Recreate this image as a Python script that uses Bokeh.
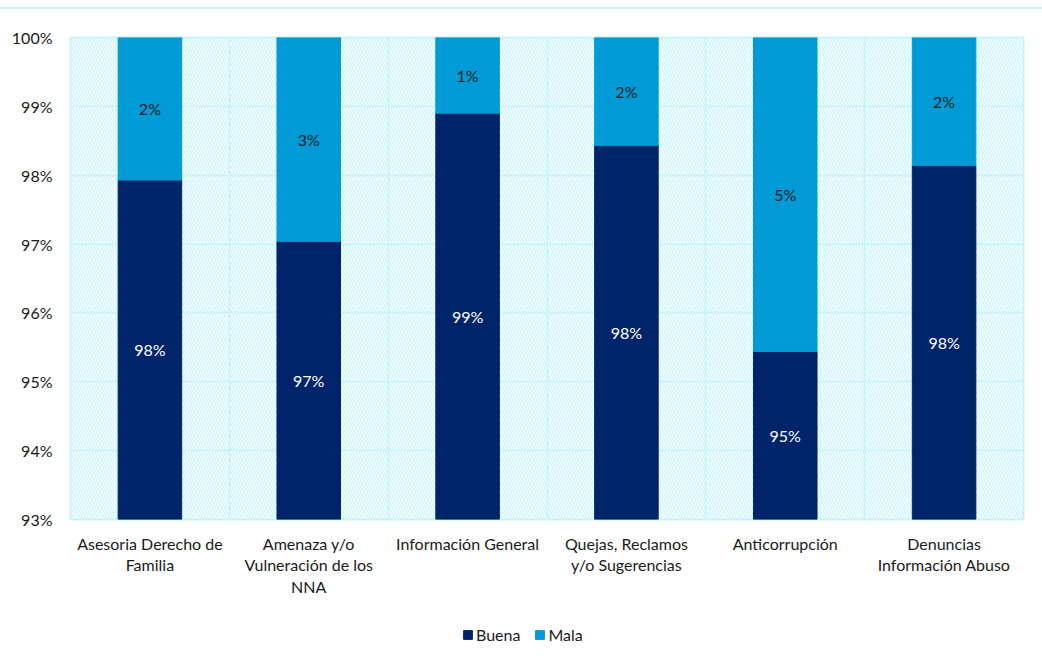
from bokeh.plotting import figure
from bokeh.layouts import column
from bokeh.models import (ColumnDataSource, Range1d, FixedTicker, PrintfTickFormatter,
                          BoxAnnotation, Legend, LegendItem, LabelSet)
from bokeh.core.properties import value
from bokeh.embed import file_html
from bokeh.resources import INLINE

categories = ["Asesoria Derecho de\nFamilia", "Amenaza y/o\nVulneración de los\nNNA",
              "Información General", "Quejas, Reclamos\ny/o Sugerencias",
              "Anticorrupción", "Denuncias\nInformación Abuso"]
buena = [97.93, 97.04, 98.90, 98.43, 95.44, 98.14]
mala = [100 - b for b in buena]
buena_labels = ["98%", "97%", "99%", "98%", "95%", "98%"]
mala_labels = ["2%", "3%", "1%", "2%", "5%", "2%"]
y_ticks = [93, 94, 95, 96, 97, 98, 99, 100]
series = ["Buena", "Mala"]

DARK = "#002469"
LIGHT = "#009AD6"
GRID = "#c9f3f9"
FONT = "Lato"

n = len(categories)
xc = [i + 0.5 for i in range(n)]
base = 93
src = ColumnDataSource(dict(
    x=xc, buena=buena, top=[100] * n, base=[base] * n,
    bl=buena_labels, ml=mala_labels,
    by=[(base + b) / 2 for b in buena],
    my=[(b + 100) / 2 for b in buena],
))

p = figure(width=1042, height=610,
           x_range=Range1d(0, n), y_range=Range1d(93, 100),
           output_backend="svg", toolbar_location=None,
           min_border_left=70, min_border_right=19, min_border_top=28, min_border_bottom=100,
           margin=(7, 0, 0, 0),
           styles={"border-top": f"2px solid {GRID}"})
p.background_fill_color = "white"
p.border_fill_color = "white"
p.outline_line_color = GRID
p.outline_line_width = 2

bg = BoxAnnotation(fill_alpha=0, hatch_pattern="\\", hatch_color="#cdf4fa", hatch_scale=6,
                   hatch_weight=1.6, line_alpha=0, level="underlay")
p.add_layout(bg)

p.xgrid.ticker = FixedTicker(ticks=list(range(n + 1)))
p.xgrid.grid_line_color = GRID
p.xgrid.grid_line_width = 2
p.ygrid.ticker = FixedTicker(ticks=y_ticks)
p.ygrid.grid_line_color = GRID
p.ygrid.grid_line_width = 2

p.vbar(x="x", bottom="base", top="buena", width=0.4, source=src,
       fill_color=DARK, line_color=DARK)
p.vbar(x="x", bottom="buena", top="top", width=0.4, source=src,
       fill_color=LIGHT, line_color=LIGHT)

p.add_layout(LabelSet(x="x", y="by", text="bl", source=src, text_align="center",
                      text_baseline="middle", text_color="white", text_font=value(FONT),
                      text_font_size="16px"))
p.add_layout(LabelSet(x="x", y="my", text="ml", source=src, text_align="center",
                      text_baseline="middle", text_color="#1a1a1a", text_font=value(FONT),
                      text_font_size="16px"))

p.xaxis.ticker = FixedTicker(ticks=xc)
p.xaxis.major_label_overrides = {x: c for x, c in zip(xc, categories)}
p.yaxis.ticker = FixedTicker(ticks=y_ticks)
p.yaxis.formatter = PrintfTickFormatter(format="%d%%")
for ax in (p.xaxis, p.yaxis):
    ax.axis_line_color = None
    ax.major_tick_line_color = None
    ax.minor_tick_line_color = None
    ax.major_label_text_font = FONT
    ax.major_label_text_font_size = "16px"
    ax.major_label_text_color = "#1a1a1a"
p.xaxis.major_label_standoff = 8
p.xaxis.major_label_text_line_height = 1.15
p.yaxis.major_label_standoff = 12

# legend strip below the chart (dummy renderers sit outside the visible range)
lg = figure(width=1042, height=34, x_range=Range1d(0, 1), y_range=Range1d(0, 1),
            output_backend="svg", toolbar_location=None, min_border=0)
lg.outline_line_color = None
lg.axis.visible = False
lg.grid.visible = False
lg.border_fill_color = "white"
dummy = ColumnDataSource(dict(x=[-10], t=[-10]))
r1 = lg.vbar(x="x", top="t", width=0.1, source=dummy, fill_color=DARK, line_color=DARK)
r2 = lg.vbar(x="x", top="t", width=0.1, source=dummy, fill_color=LIGHT, line_color=LIGHT)
legend = Legend(items=[LegendItem(label=series[0], renderers=[r1]),
                       LegendItem(label=series[1], renderers=[r2])],
                orientation="horizontal", location=(392, 7),
                label_text_font=FONT, label_text_font_size="16px",
                label_text_color="#1a1a1a", glyph_width=11, glyph_height=11,
                spacing=14, label_standoff=3, border_line_color=None,
                background_fill_alpha=0, padding=0, margin=0, label_height=18)
lg.add_layout(legend, "center")

open("out.html", "w").write(file_html(column(p, lg, spacing=0), INLINE))
